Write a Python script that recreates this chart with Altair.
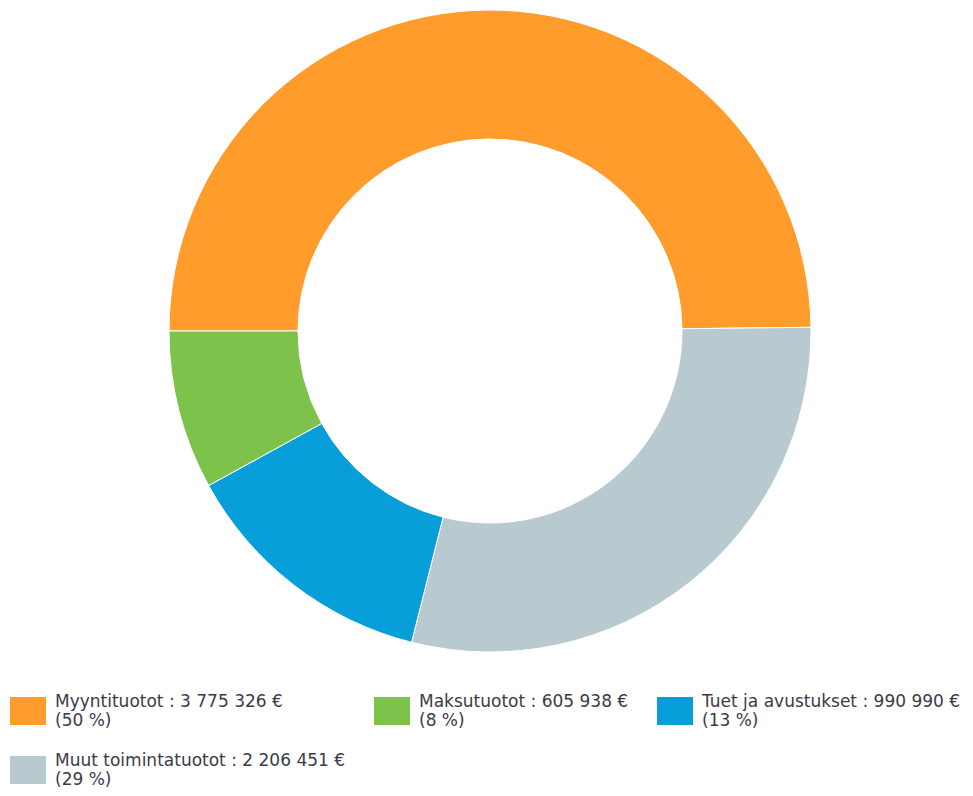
import altair as alt
import pandas as pd

categories = ["Myyntituotot", "Muut toimintatuotot", "Tuet ja avustukset", "Maksutuotot"]
values = [3775326, 2206451, 990990, 605938]
value_labels = ["3 775 326 €", "2 206 451 €", "990 990 €", "605 938 €"]
percent_labels = ["50 %", "29 %", "13 %", "8 %"]
colors = ["#FF9C2B", "#B8C9CF", "#079ED9", "#7DC34B"]

# legend domain order (Vega lays these out as: row 1 -> 1st, 3rd, 2nd; row 2 -> 4th)
legend_order = ["Myyntituotot", "Tuet ja avustukset", "Maksutuotot", "Muut toimintatuotot"]

labels = [f"{c} : {v}|({p})" for c, v, p in zip(categories, value_labels, percent_labels)]
df = pd.DataFrame({
    "category": categories,
    "value": values,
    "label": labels,
    "order": list(range(len(categories))),
})
lab_map = dict(zip(categories, labels))
col_map = dict(zip(categories, colors))
domain = [lab_map[c] for c in legend_order]
rng = [col_map[c] for c in legend_order]

chart = alt.Chart(df).mark_arc(
    radius=321, radius2=192, stroke="white", strokeWidth=1
).encode(
    x=alt.value(482),
    y=alt.value(321),
    theta=alt.Theta("value:Q", stack=True,
                    scale=alt.Scale(range=[-1.5708, 4.7124])),
    order=alt.Order("order:Q"),
    color=alt.Color("label:N",
                    scale=alt.Scale(domain=domain, range=rng),
                    legend=alt.Legend(
                        title=None, orient="none", legendX=6, legendY=687,
                        values=domain,
                        columns=3, columnPadding=27, rowPadding=23,
                        symbolType="M-1.286,-1H1.286V1H-1.286Z", symbolSize=784,
                        symbolStrokeWidth=0, symbolOpacity=1,
                        labelExpr="split(datum.label, '|')",
                        labelFont="DejaVu Sans", labelFontSize=17,
                        labelColor="#3b3b48", labelLimit=400, labelOffset=13,
                        labelBaseline="bottom",
                    )),
    tooltip=["category:N", "value:Q"],
).properties(
    width=957, height=642, padding=0
).configure_view(stroke=None)

chart.save("out.html", embed_options={"renderer": "svg", "actions": False})
